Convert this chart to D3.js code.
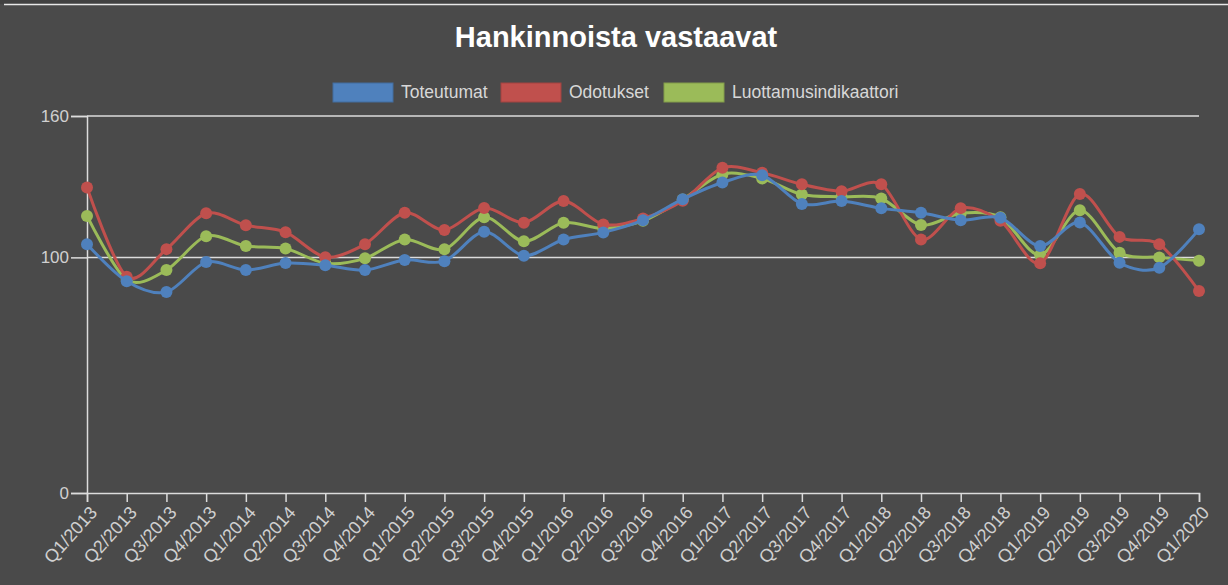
<!DOCTYPE html>
<html>
<head>
<meta charset="utf-8">
<script src="https://cdn.jsdelivr.net/npm/d3@7"></script>
<style>
  html, body { margin: 0; padding: 0; background: #4a4a4a; }
  svg { display: block; font-family: "Liberation Sans", Arial, sans-serif; }
</style>
</head>
<body>
<div id="chart"></div>
<script>
const quarters = [
  "Q1/2013","Q2/2013","Q3/2013","Q4/2013","Q1/2014","Q2/2014","Q3/2014","Q4/2014",
  "Q1/2015","Q2/2015","Q3/2015","Q4/2015","Q1/2016","Q2/2016","Q3/2016","Q4/2016",
  "Q1/2017","Q2/2017","Q3/2017","Q4/2017","Q1/2018","Q2/2018","Q3/2018","Q4/2018",
  "Q1/2019","Q2/2019","Q3/2019","Q4/2019","Q1/2020"
];
const toteutumat = [
  105.6, 89.9, 85.3, 98.0, 94.6, 97.6, 96.7, 94.6,
  98.9, 98.4, 110.9, 100.7, 107.6, 110.6, 115.8, 124.7,
  131.8, 134.9, 122.7, 123.9, 120.8, 118.9, 115.8, 116.8,
  104.8, 114.8, 97.7, 95.6, 111.9
];
const odotukset = [
  129.7, 91.8, 103.5, 118.7, 113.6, 110.7, 100.1, 105.6,
  118.9, 111.6, 121.0, 114.7, 123.9, 114.0, 116.5, 124.0,
  138.0, 135.9, 131.0, 128.1, 131.0, 107.6, 120.9, 115.5,
  97.5, 126.9, 108.7, 105.6, 85.7
];
const luottamus = [
  117.6, 90.5, 94.6, 109.0, 104.8, 103.8, 97.5, 99.6,
  107.6, 103.4, 117.0, 106.8, 114.7, 112.3, 115.5, 124.6,
  135.3, 133.5, 126.7, 125.7, 125.0, 113.7, 118.7, 117.0,
  101.0, 120.0, 102.0, 100.0, 98.6
];
const seriesNames = ["Toteutumat", "Odotukset", "Luottamusindikaattori"];
const seriesColors = ["#4f81bd", "#c0504d", "#9bbb59"];
const yTicks = [0, 100, 160];

const W = 1228, H = 585;
const svg = d3.select("#chart").append("svg")
  .attr("width", W).attr("height", H);

// frame like the screenshot
svg.append("rect").attr("x", 0).attr("y", 0).attr("width", W).attr("height", H).attr("fill", "#4a4a4a");
svg.append("rect").attr("x", 0).attr("y", 0).attr("width", W).attr("height", 4).attr("fill", "#414141");
svg.append("line").attr("x1", 4).attr("x2", W).attr("y1", 4.5).attr("y2", 4.5)
  .attr("stroke", "#e8e8e8").attr("stroke-width", 1.5);

const margin = { left: 87, right: 29, top: 116, bottom: 92 };
const x = d3.scalePoint().domain(quarters).range([margin.left, W - margin.right]);
const y = d3.scaleLinear().domain([0, 160]).range([H - margin.bottom, margin.top]);

// title
svg.append("text")
  .attr("x", 616).attr("y", 47)
  .attr("text-anchor", "middle")
  .attr("fill", "#ffffff")
  .style("font-size", "29px").style("font-weight", "bold")
  .text("Hankinnoista vastaavat");

// legend
const legendX = [333, 501, 664];
const legend = svg.append("g");
seriesNames.forEach((name, i) => {
  legend.append("rect")
    .attr("x", legendX[i]).attr("y", 83).attr("width", 60).attr("height", 19)
    .attr("fill", seriesColors[i])
    .attr("stroke", d3.color(seriesColors[i]).darker(0.5)).attr("stroke-width", 1);
  legend.append("text")
    .attr("x", legendX[i] + 68).attr("y", 98)
    .attr("fill", "#d8d8d8")
    .style("font-size", "17.5px")
    .text(name);
});

// grid lines
svg.append("g").selectAll("line")
  .data(yTicks.filter(d => d > 0))
  .join("line")
  .attr("x1", margin.left).attr("x2", W - margin.right)
  .attr("y1", d => y(d)).attr("y2", d => y(d))
  .attr("stroke", "#dcdcdc").attr("stroke-width", 1.5);

// y axis
const yAxis = svg.append("g")
  .attr("transform", `translate(${margin.left},0)`)
  .call(d3.axisLeft(y).tickValues(yTicks).tickSize(16).tickPadding(2).tickFormat(d3.format("d")));
yAxis.select(".domain").attr("stroke", "#dcdcdc").attr("stroke-width", 1.5);
yAxis.selectAll(".tick line").attr("stroke", "#dcdcdc").attr("stroke-width", 1.5);
yAxis.selectAll(".tick text").attr("fill", "#d0d0d0")
  .style("font-size", "17px").style("font-family", "Liberation Sans, Arial, sans-serif");

// x axis
const xAxis = svg.append("g")
  .attr("transform", `translate(0,${y(0)})`)
  .call(d3.axisBottom(x).tickSize(9).tickPadding(4));
xAxis.select(".domain").attr("stroke", "#dcdcdc").attr("stroke-width", 1.5);
xAxis.selectAll(".tick line").attr("stroke", "#dcdcdc").attr("stroke-width", 1.5);
xAxis.selectAll(".tick text")
  .attr("fill", "#d0d0d0")
  .style("font-size", "18px").style("font-family", "Liberation Sans, Arial, sans-serif")
  .attr("text-anchor", "end")
  .attr("dy", "0.35em")
  .attr("transform", "translate(6,16) rotate(-48)")
  .attr("x", 0).attr("y", 0);

// lines and points
const allSeries = [toteutumat, odotukset, luottamus];
const line = d3.line()
  .x((d, i) => x(quarters[i]))
  .y(d => y(d))
  .curve(d3.curveCardinal.tension(0.1));

// draw order: green, red, blue on top
[2, 1, 0].forEach(si => {
  const g = svg.append("g");
  g.append("path")
    .datum(allSeries[si])
    .attr("fill", "none")
    .attr("stroke", seriesColors[si])
    .attr("stroke-width", 3)
    .attr("d", line);
  g.selectAll("circle")
    .data(allSeries[si])
    .join("circle")
    .attr("cx", (d, i) => x(quarters[i]))
    .attr("cy", d => y(d))
    .attr("r", 6)
    .attr("fill", seriesColors[si]);
});
</script>
</body>
</html>
